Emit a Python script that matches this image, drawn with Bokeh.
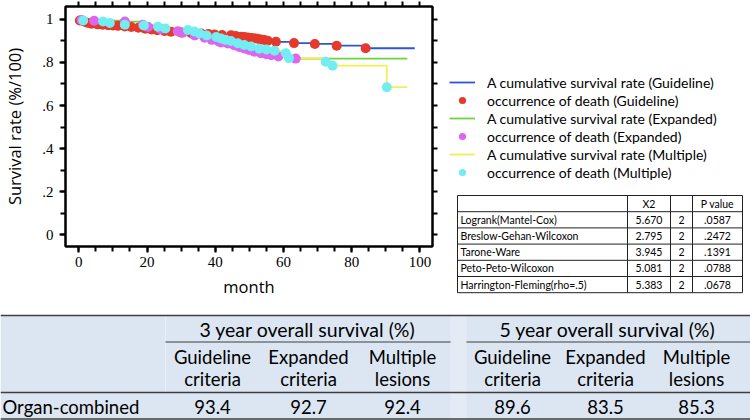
from bokeh.plotting import figure
from bokeh.layouts import column, row
from bokeh.models import (Range1d, LinearAxis, FixedTicker, Legend, LegendItem,
                          ColumnDataSource, Arrow)
from bokeh.core.properties import value
from bokeh.embed import file_html
from bokeh.resources import INLINE

# ---------------- data ----------------
gl_t = [0.3, 1.5, 2.5, 3.7, 5.5, 7.0, 8.6, 10.0, 11.5, 13.5,
        15.4, 17.5, 19.5, 21.3, 23.0, 25.1, 27.0, 30.0, 33.0, 35.9,
        38.0, 39.8, 42.0, 44.6, 46.0, 47.6, 48.5, 49.5, 50.5, 51.4,
        52.4, 53.4, 54.4, 55.4, 57.8, 63.1, 69.2, 75.6, 84.1]
gl_s = [0.995, 0.990, 0.985, 0.980, 0.977, 0.975, 0.973, 0.972, 0.970, 0.967,
        0.965, 0.961, 0.957, 0.953, 0.950, 0.946, 0.943, 0.939, 0.936, 0.934,
        0.932, 0.930, 0.928, 0.926, 0.923, 0.920, 0.918, 0.916, 0.914, 0.912,
        0.910, 0.907, 0.904, 0.901, 0.896, 0.890, 0.886, 0.878, 0.866]
gl_end = 98.5

ex_t = [0.8, 4.5, 13.5, 18.8, 20.3, 24.0, 29.0, 30.5, 34.0, 36.9,
        39.0, 41.0, 41.7, 43.7, 45.5, 47.0, 48.5, 49.9, 51.5, 53.4,
        55.0, 56.4, 58.5, 63.6]
ex_s = [0.997, 0.994, 0.990, 0.975, 0.965, 0.955, 0.945, 0.938, 0.925, 0.915,
        0.905, 0.898, 0.893, 0.888, 0.880, 0.872, 0.865, 0.858, 0.850, 0.843,
        0.838, 0.834, 0.828, 0.818]
ex_end = 96.3

mu_t = [1.3, 7.1, 9.1, 13.5, 19.1, 23.2, 25.4, 32.0, 33.9, 35.4,
        37.5, 40.3, 41.7, 43.0, 44.6, 46.6, 48.5, 50.5, 52.9, 55.0,
        57.4, 60.7, 61.6, 72.4, 74.4, 90.3]
mu_s = [0.995, 0.990, 0.983, 0.975, 0.972, 0.966, 0.958, 0.951, 0.944, 0.935,
        0.925, 0.918, 0.911, 0.905, 0.900, 0.889, 0.881, 0.874, 0.864, 0.860,
        0.855, 0.843, 0.820, 0.803, 0.785, 0.685]
mu_end = 96.3

x_ticks = [0, 20, 40, 60, 80, 100]
y_ticks = [0, 0.2, 0.4, 0.6, 0.8, 1.0]
y_tick_labels = ["0", ".2", ".4", ".6", ".8", "1"]
x_minor_ticks = [0, 5, 10, 15, 20, 25, 30, 35, 40, 45, 50, 55, 60, 65, 70, 75, 80, 85, 90, 95, 100]
y_minor_ticks = [0, 0.1, 0.2, 0.3, 0.4, 0.5, 0.6, 0.7, 0.8, 0.9, 1.0]

legend_labels = ["A cumulative survival rate (Guideline)", "occurrence of death (Guideline)",
                 "A cumulative survival rate (Expanded)", "occurrence of death (Expanded)",
                 "A cumulative survival rate (Multiple)", "occurrence of death (Multiple)"]

stat_tests = ["Logrank(Mantel-Cox)", "Breslow-Gehan-Wilcoxon", "Tarone-Ware",
              "Peto-Peto-Wilcoxon", "Harrington-Fleming(rho=.5)"]
stat_x2 = ["5.670", "2.795", "3.945", "5.081", "5.383"]
stat_df = ["2", "2", "2", "2", "2"]
stat_p = [".0587", ".2472", ".1391", ".0788", ".0678"]
stat_header = ["", "X2", "", "P value"]

os_groups = ["3 year overall survival (%)", "5 year overall survival (%)"]
os_cols_1 = ["Guideline", "Expanded", "Multiple", "Guideline", "Expanded", "Multiple"]
os_cols_2 = ["criteria", "criteria", "lesions", "criteria", "criteria", "lesions"]
os_row = "Organ-combined"
os_values = ["93.4", "92.7", "92.4", "89.6", "83.5", "85.3"]

# ---------------- styles ----------------
C_BLUE, C_RED = "#2f55d4", "#e5392b"
C_GREEN, C_MAG = "#6fd43a", "#dd66ee"
C_YEL, C_CYAN = "#f3ee55", "#72eef2"
LW = 1.8
DOT = 10

def km_steps(t, s, end):
    return [0.0] + list(t) + [end], [1.0] + list(s) + [s[-1]]

# ---------------- KM figure ----------------
XR = (-3.9, 103.7)
YR = (-0.055, 1.06)
FW, FH = 368, 244          # frame size in px
p = figure(width=440, height=300, x_range=Range1d(*XR), y_range=Range1d(*YR),
           output_backend="svg", toolbar_location=None, frame_align=False,
           min_border_left=64, min_border_right=8, min_border_top=6, min_border_bottom=50)
p.grid.visible = False
p.outline_line_color = "black"
p.outline_line_width = 2

for t, s, end, col in [(gl_t, gl_s, gl_end, C_BLUE), (ex_t, ex_s, ex_end, C_GREEN), (mu_t, mu_s, mu_end, C_YEL)]:
    xs, ys = km_steps(t, s, end)
    p.step(xs, ys, mode="after", line_color=col, line_width=LW)
p.scatter(gl_t, gl_s, size=DOT, fill_color=C_RED, line_color=None)
p.scatter(ex_t, ex_s, size=DOT, fill_color=C_MAG, line_color=None)
p.scatter(mu_t, mu_s, size=DOT, fill_color=C_CYAN, line_color=None)

xa = p.below[0]
ya = p.left[0]
xa.ticker = FixedTicker(ticks=x_ticks, minor_ticks=x_minor_ticks)
ya.ticker = FixedTicker(ticks=y_ticks, minor_ticks=y_minor_ticks)
ya.major_label_overrides = dict(zip(y_ticks, y_tick_labels))
xa.axis_label = "month"
ya.axis_label = "Survival rate (%/100)"

top = LinearAxis(ticker=FixedTicker(ticks=x_minor_ticks),
                 major_label_overrides={t: "" for t in x_minor_ticks})
right = LinearAxis(ticker=FixedTicker(ticks=y_minor_ticks),
                   major_label_overrides={t: "" for t in y_minor_ticks})
for ax in (top, right):
    ax.major_label_text_font_size = "1px"
    ax.major_label_standoff = 0
    ax.major_tick_out = 5
    ax.major_tick_in = 0
for ax in (xa, ya, top, right):
    ax.axis_line_width = 2
    ax.axis_line_color = "#000000"
    ax.major_tick_line_color = "#000000"
    ax.minor_tick_line_color = "#000000"
    ax.major_tick_line_width = 2
    ax.minor_tick_line_width = 2
for ax in (xa, ya):
    ax.major_tick_out = 6
    ax.major_tick_in = 0
    ax.minor_tick_out = 5
    ax.minor_tick_in = 0
    ax.major_label_text_font = "Liberation Sans Narrow"
    ax.major_label_text_font_size = "15px"
    ax.major_label_text_color = "black"
    ax.axis_label_text_font = "Open Sans"
    ax.axis_label_text_font_size = "16.5px"
    ax.axis_label_text_font_style = "normal"
    ax.axis_label_text_color = "black"
xa.major_label_standoff = 4
xa.axis_label_standoff = 5
ya.major_label_standoff = 6
ya.axis_label_standoff = 13
p.add_layout(top, "above")
p.add_layout(right, "right")

# tick marks drawn as annotation segments just outside the frame (mirrors the axes' ticks)
dxp = (XR[1] - XR[0]) / FW
dyp = (YR[1] - YR[0]) / FH
tk = dict(x0=[], y0=[], x1=[], y1=[])
for t in x_minor_ticks:
    L = 6 if t in x_ticks else 5
    tk["x0"] += [t, t]; tk["x1"] += [t, t]
    tk["y0"] += [YR[0], YR[1]]; tk["y1"] += [YR[0] - L * dyp, YR[1] + 5 * dyp]
for v in y_minor_ticks:
    L = 6 if v in y_ticks else 5
    tk["y0"] += [v, v]; tk["y1"] += [v, v]
    tk["x0"] += [XR[0], XR[1]]; tk["x1"] += [XR[0] - L * dxp, XR[1] + 5 * dxp]
p.add_layout(Arrow(end=None, source=ColumnDataSource(tk), x_start="x0", y_start="y0",
                   x_end="x1", y_end="y1", line_color="black", line_width=1.5))

# ---------------- legend + stats figure ----------------
r = figure(width=310, height=300, x_range=Range1d(440, 750), y_range=Range1d(300, 0),
           x_axis_type=None, y_axis_type=None, min_border=0, frame_align=False,
           output_backend="svg", toolbar_location=None)
r.grid.visible = False
r.outline_line_color = None

dummy = ColumnDataSource(dict(x=[0], y=[0]))
rend = []
for lc, dc in [(C_BLUE, C_RED), (C_GREEN, C_MAG), (C_YEL, C_CYAN)]:
    rend.append(r.line("x", "y", source=dummy, line_color=lc, line_width=LW))
    rend.append(r.scatter("x", "y", source=dummy, size=DOT, fill_color=dc, line_color=None))
legend = Legend(items=[LegendItem(label=lab, renderers=[rr]) for lab, rr in zip(legend_labels, rend)],
                location=(9, 119), padding=0, margin=0, glyph_width=26, glyph_height=18,
                label_height=18, spacing=0, label_standoff=12,
                label_text_font="Lato", label_text_font_size="14px", label_text_color="black",
                border_line_color=None, background_fill_alpha=0)
r.add_layout(legend)

col_edges = [457, 627, 670, 692, 742]
row_top, row_h = 195, 16.2
n_rows = len(stat_tests) + 1
row_edges = [row_top + i * row_h for i in range(n_rows + 1)]
r.segment(x0=[col_edges[0]] * len(row_edges), x1=[col_edges[-1]] * len(row_edges),
          y0=row_edges, y1=row_edges, line_color="#222222", line_width=1)
r.segment(x0=col_edges, x1=col_edges, y0=[row_edges[0]] * len(col_edges),
          y1=[row_edges[-1]] * len(col_edges), line_color="#222222", line_width=1)
centers = [(col_edges[i] + col_edges[i + 1]) / 2 for i in range(len(col_edges) - 1)]
row_c = [row_top + (i + 0.5) * row_h for i in range(n_rows)]
tf = dict(text_font=value("Lato"), text_font_size="10.5px", text_baseline="middle", text_color="black")
r.text(x=centers[1:], y=[row_c[0]] * 3, text=stat_header[1:], text_align="center", **tf)
r.text(x=[col_edges[0] + 3] * len(stat_tests), y=row_c[1:], text=stat_tests, text_align="left", **tf)
r.text(x=[centers[1]] * len(stat_x2), y=row_c[1:], text=stat_x2, text_align="center", **tf)
r.text(x=[centers[2]] * len(stat_df), y=row_c[1:], text=stat_df, text_align="center", **tf)
r.text(x=[centers[3]] * len(stat_p), y=row_c[1:], text=stat_p, text_align="center", **tf)

# ---------------- bottom table ----------------
b = figure(width=750, height=120, x_range=Range1d(0, 750), y_range=Range1d(420, 300),
           x_axis_type=None, y_axis_type=None, min_border=0, frame_align=False,
           output_backend="svg", toolbar_location=None)
b.grid.visible = False
b.outline_line_color = None
b.quad(left=[0], right=[750], top=[315], bottom=[420], fill_color="#dce6f2", line_color=None)
b.quad(left=[450], right=[466], top=[315], bottom=[420], fill_color="#e4ebf5", line_color=None)
b.segment(x0=[165], x1=[165], y0=[315], y1=[392], line_color="#e9eff8", line_width=1)
b.segment(x0=[0, 0, 0], x1=[750, 750, 750], y0=[315, 392, 418.5], y1=[315, 392, 418.5],
          line_color="#3f3f3f", line_width=1.6)
b.segment(x0=[165, 466], x1=[450, 750], y0=[341.5, 341.5], y1=[341.5, 341.5],
          line_color="#3f3f3f", line_width=1.2)
col_x = [212, 308, 402, 512, 605, 696]
bt = dict(text_font=value("Lato"), text_font_size="18.5px", text_baseline="middle", text_color="black")
b.text(x=[307, 607], y=[328.5, 328.5], text=os_groups, text_align="center",
       **dict(bt, text_font_size="19.5px"))
b.text(x=col_x, y=[356] * 6, text=os_cols_1, text_align="center", **bt)
b.text(x=col_x, y=[378] * 6, text=os_cols_2, text_align="center", **bt)
b.text(x=[2], y=[406], text=[os_row], text_align="left", **bt)
b.text(x=col_x, y=[406] * 6, text=os_values, text_align="center", **bt)

layout = column(row(p, r), b)
open("out.html", "w").write(file_html(layout, INLINE))
